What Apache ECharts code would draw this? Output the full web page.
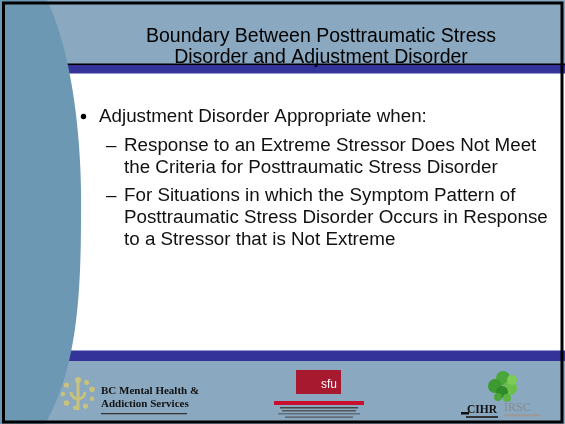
<!DOCTYPE html>
<html>
<head>
<meta charset="utf-8">
<script src="https://cdn.jsdelivr.net/npm/echarts@6/dist/echarts.min.js"></script>
<style>
  html, body { margin: 0; padding: 0; background: #fff; }
  #chart { width: 565px; height: 424px; }
</style>
</head>
<body>
<div id="chart"></div>
<script>
// slide texts
const titleLines = ['Boundary Between Posttraumatic Stress', 'Disorder and Adjustment Disorder'];
const bulletText = 'Adjustment Disorder Appropriate when:';
const subBullets = [
  ['Response to an Extreme Stressor Does Not Meet', 'the Criteria for Posttraumatic Stress Disorder'],
  ['For Situations in which the Symptom Pattern of', 'Posttraumatic Stress Disorder Occurs in Response', 'to a Stressor that is Not Extreme']
];
const bcLogoLines = ['BC Mental Health &', 'Addiction Services'];

const barColor = '#8aa8c0';
const bandColor = '#6c98b4';
const navy = '#333399';

// left curved band, sampled from two cubic curves
function cubic(p0, p1, p2, p3, n) {
  const pts = [];
  for (let i = 0; i <= n; i++) {
    const t = i / n, u = 1 - t;
    pts.push([
      u*u*u*p0[0] + 3*u*u*t*p1[0] + 3*u*t*t*p2[0] + t*t*t*p3[0],
      u*u*u*p0[1] + 3*u*u*t*p1[1] + 3*u*t*t*p2[1] + t*t*t*p3[1]
    ]);
  }
  return pts;
}
const bandPts = [[0, 0]]
  .concat(cubic([47, 0], [75, 60], [82, 150], [81, 215], 30))
  .concat(cubic([81, 215], [81, 300], [76, 370], [45, 424], 30))
  .concat([[0, 424]]);

function txt(x, y, text, font, fill, align) {
  return {
    type: 'text', x: x, y: y, z: 20,
    style: {
      text: text, font: font, fill: fill,
      align: align || 'left', textAlign: align || 'left',
      verticalAlign: 'middle', textVerticalAlign: 'middle'
    }
  };
}

const graphics = [];
// bars
graphics.push({ type: 'rect', z: 1, shape: { x: 0, y: 0, width: 565, height: 64 }, style: { fill: barColor } });
graphics.push({ type: 'rect', z: 2, shape: { x: 0, y: 63.5, width: 565, height: 1.5 }, style: { fill: '#000' } });
graphics.push({ type: 'rect', z: 1, shape: { x: 0, y: 65, width: 565, height: 8.5 }, style: { fill: navy } });
graphics.push({ type: 'rect', z: 1, shape: { x: 0, y: 350.5, width: 565, height: 10.5 }, style: { fill: navy } });
graphics.push({ type: 'rect', z: 1, shape: { x: 0, y: 361, width: 565, height: 63 }, style: { fill: barColor } });
graphics.push({ type: 'polygon', z: 5, shape: { points: bandPts }, style: { fill: bandColor } });
// frame
graphics.push({ type: 'rect', z: 30, shape: { x: 3.5, y: 3, width: 558.5, height: 419 }, style: { fill: null, stroke: '#000', lineWidth: 3 } });

// title
titleLines.forEach(function (t, i) {
  graphics.push(txt(321, 36.5 + i * 21, t, '19.5px "Liberation Sans"', '#000', 'center'));
});

// body
const bodyFont = '18.8px "Liberation Sans"';
graphics.push({ type: 'circle', z: 20, shape: { cx: 83.5, cy: 116.5, r: 2.7 }, style: { fill: '#000' } });
graphics.push(txt(99, 117, bulletText, bodyFont, '#111'));
let y = 145.5;
subBullets.forEach(function (lines) {
  graphics.push(txt(106, y, '\u2013', bodyFont, '#111'));
  lines.forEach(function (l) {
    graphics.push(txt(124, y, l, bodyFont, '#111'));
    y += 22;
  });
  y += 6.5;
});

// BC MHAS logo
const sunDots = [[0, 3], [35, 2.5], [70, 2.8], [110, 2.2], [150, 2.6], [190, 2.4], [230, 2.8], [270, 2.2], [310, 2.6]];
sunDots.forEach(function (d) {
  const a = (d[0] - 90) * Math.PI / 180;
  graphics.push({ type: 'circle', z: 10, shape: { cx: 78 + 15 * Math.cos(a), cy: 394 + 14 * Math.sin(a), r: d[1] }, style: { fill: '#c9c27a' } });
});
graphics.push({ type: 'arc', z: 10, shape: { cx: 78, cy: 392, r: 7, startAngle: 0, endAngle: Math.PI }, style: { stroke: '#c9c27a', lineWidth: 3, fill: null } });
graphics.push({ type: 'line', z: 10, shape: { x1: 78, y1: 382, x2: 78, y2: 410 }, style: { stroke: '#c9c27a', lineWidth: 3 } });
bcLogoLines.forEach(function (t, i) {
  graphics.push(txt(101, 391 + i * 13, t, 'bold 11px "Liberation Serif"', '#111'));
});
graphics.push({ type: 'rect', z: 10, shape: { x: 101, y: 413, width: 86, height: 1.2 }, style: { fill: '#333' } });

// SFU logo
graphics.push({ type: 'rect', z: 10, shape: { x: 296, y: 370, width: 45, height: 24 }, style: { fill: '#a6192e' } });
graphics.push(txt(329, 385, 'sfu', '12px "Liberation Sans"', '#fff', 'center'));
graphics.push({ type: 'rect', z: 10, shape: { x: 274, y: 401, width: 90, height: 4 }, style: { fill: '#c8102e' } });
graphics.push({ type: 'rect', z: 10, shape: { x: 280, y: 407, width: 78, height: 1.5 }, style: { fill: '#444' } });
graphics.push({ type: 'rect', z: 10, shape: { x: 282, y: 410, width: 74, height: 1.5 }, style: { fill: '#555' } });
graphics.push({ type: 'rect', z: 10, shape: { x: 278, y: 413.5, width: 82, height: 0.8 }, style: { fill: '#333' } });
graphics.push({ type: 'rect', z: 10, shape: { x: 285, y: 416.5, width: 68, height: 1.2 }, style: { fill: '#555' } });

// CIHR logo
const leaf = [[503, 378, 7, '#4aa63a'], [495, 386, 7, '#3d9a30'], [510, 388, 7, '#6cc04a'], [502, 392, 6, '#2f8a28'], [512, 380, 5, '#7ccc55'], [498, 397, 4, '#4aa63a'], [507, 398, 4, '#5bb540']];
leaf.forEach(function (c) {
  graphics.push({ type: 'circle', z: 10, shape: { cx: c[0], cy: c[1], r: c[2] }, style: { fill: c[3] } });
});
graphics.push(txt(467, 410, 'CIHR', 'bold 11.5px "Liberation Serif"', '#111'));
graphics.push({ type: 'rect', z: 10, shape: { x: 461, y: 412, width: 8, height: 2.5 }, style: { fill: '#111' } });
graphics.push({ type: 'rect', z: 10, shape: { x: 466, y: 416, width: 32, height: 2 }, style: { fill: '#333' } });
graphics.push(txt(504, 408, 'IRSC', '12px "Liberation Serif"', '#8a8a8a'));
graphics.push({ type: 'rect', z: 10, shape: { x: 504, y: 414, width: 36, height: 2.5 }, style: { fill: '#9a9a9a' } });

const myChart = echarts.init(document.getElementById('chart'));
myChart.setOption({
  backgroundColor: '#fff',
  animation: false,
  graphic: { elements: graphics }
});
</script>
</body>
</html>
